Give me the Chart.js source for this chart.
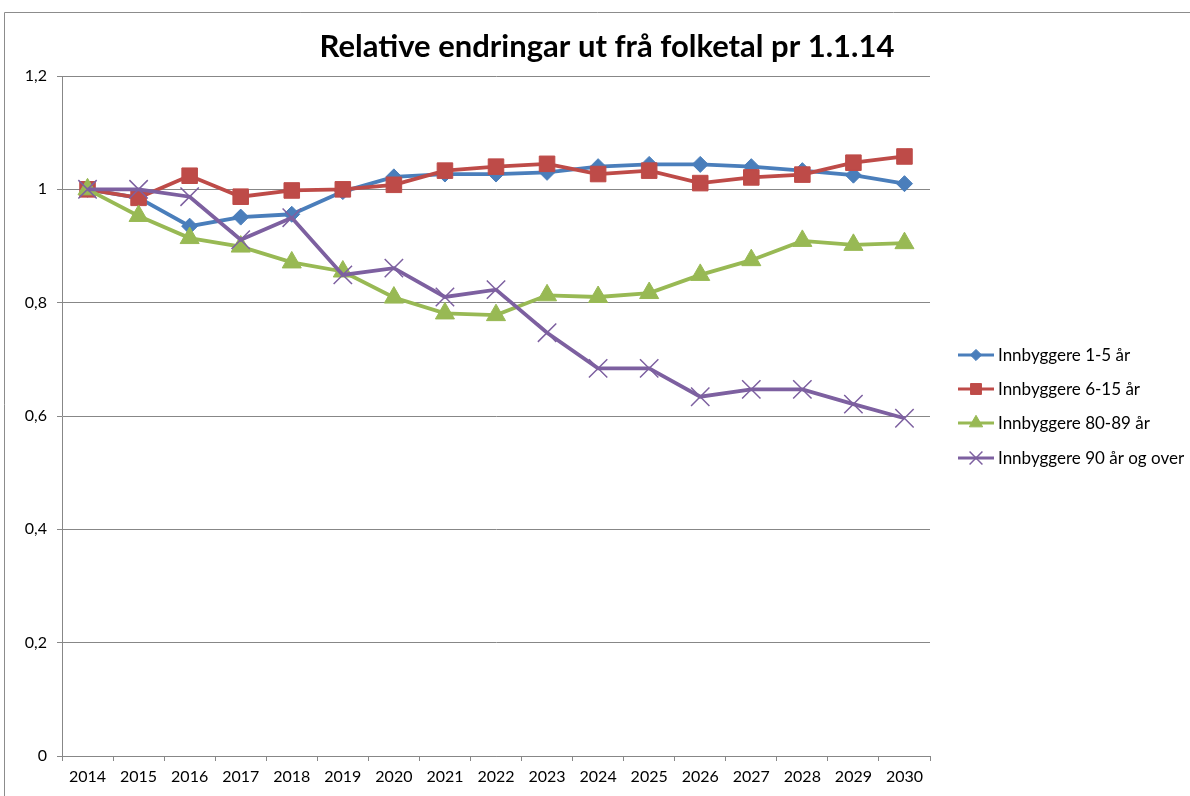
<!DOCTYPE html>
<html>
<head>
<meta charset="utf-8">
<script src="https://cdn.jsdelivr.net/npm/chart.js@4.4.1/dist/chart.umd.min.js"></script>
<style>
  html, body { margin: 0; padding: 0; background: #fff; }
  canvas { display: block; }
</style>
</head>
<body>
<canvas id="myChart" width="1190" height="796"></canvas>
<script>
//////////////////// Data ////////////////////
const years = ['2014', '2015', '2016', '2017', '2018', '2019', '2020', '2021', '2022',
               '2023', '2024', '2025', '2026', '2027', '2028', '2029', '2030'];

const age1to5   = [1.000, 0.985, 0.935, 0.951, 0.956, 0.996, 1.022, 1.027, 1.027,
                   1.030, 1.040, 1.044, 1.044, 1.040, 1.033, 1.025, 1.010];
const age6to15  = [1.000, 0.985, 1.024, 0.987, 0.998, 1.000, 1.008, 1.033, 1.040,
                   1.045, 1.027, 1.033, 1.011, 1.021, 1.026, 1.047, 1.058];
const age80to89 = [1.000, 0.953, 0.914, 0.899, 0.871, 0.855, 0.809, 0.781, 0.778,
                   0.813, 0.810, 0.817, 0.849, 0.875, 0.909, 0.902, 0.905];
const age90plus = [1.000, 1.000, 0.987, 0.911, 0.950, 0.849, 0.861, 0.810, 0.823,
                   0.747, 0.684, 0.684, 0.634, 0.647, 0.647, 0.621, 0.596];

const seriesNames = ['Innbyggere 1-5 år', 'Innbyggere 6-15 år', 'Innbyggere 80-89 år', 'Innbyggere 90 år og over'];
const yTicks = [0, 0.2, 0.4, 0.6, 0.8, 1, 1.2];
const chartTitle = 'Relative endringar ut frå folketal pr 1.1.14';
/////////////////////////////////////////////////////////////////////

const FONT = 'Lato, "Open Sans", sans-serif';
const GRID = '#878787';

const ctx1 = document.getElementById('myChart').getContext('2d');

// frame, title and legend are drawn by hand, Excel style
const excelLook = {
    id: 'excelLook',
    beforeDraw(chart) {
        const { ctx } = chart;
        ctx.save();
        ctx.fillStyle = '#fff';
        ctx.fillRect(0, 0, chart.width, chart.height);
        ctx.strokeStyle = '#8c8c8c';
        ctx.lineWidth = 1;
        ctx.beginPath();
        ctx.moveTo(4.5, chart.height);
        ctx.lineTo(4.5, 12.5);
        ctx.lineTo(chart.width, 12.5);
        ctx.stroke();
        ctx.restore();
    },
    afterDraw(chart) {
        const { ctx } = chart;
        ctx.save();
        // title
        ctx.fillStyle = '#000';
        ctx.font = 'bold 31px ' + FONT;
        ctx.textAlign = 'center';
        ctx.textBaseline = 'middle';
        ctx.fillText(chartTitle, 607, 47);

        // legend
        ctx.textAlign = 'left';
        ctx.font = '17px ' + FONT;
        const rows = [355, 389, 423, 458];
        chart.data.datasets.forEach((ds, i) => {
            const y = rows[i];
            ctx.strokeStyle = ds.borderColor;
            ctx.lineWidth = 3;
            ctx.beginPath();
            ctx.moveTo(958, y);
            ctx.lineTo(994, y);
            ctx.stroke();
            ctx.fillStyle = ds.pointBackgroundColor;
            ctx.strokeStyle = ds.pointBorderColor;
            ctx.lineWidth = ds.pointBorderWidth;
            Chart.helpers.drawPoint(ctx, {
                pointStyle: ds.pointStyle,
                radius: ds.pointRadius * 0.7,
                rotation: 0,
                borderWidth: ds.pointBorderWidth
            }, 976, y);
            ctx.fillStyle = '#000';
            ctx.fillText(ds.label, 998, y + 1);
        });
        ctx.restore();
    }
};

function makeSet(label, values, color, style, radius, order) {
    return {
        label: label,
        data: values,
        borderColor: color,
        backgroundColor: color,
        pointBackgroundColor: color,
        pointBorderColor: color,
        pointStyle: style,
        pointRadius: radius,
        pointHoverRadius: radius,
        pointBorderWidth: style === 'crossRot' ? 1.5 : 1,
        borderWidth: 3.8,
        tension: 0,
        fill: false,
        order: order
    };
}

const data = {
    labels: years,
    datasets: [
        makeSet(seriesNames[0], age1to5,   '#4A7EBB', 'rectRot',  8, 3),
        makeSet(seriesNames[1], age6to15,  '#BE4B48', 'rect',     11, 2),
        makeSet(seriesNames[2], age80to89, '#98B954', 'triangle', 11, 1),
        makeSet(seriesNames[3], age90plus, '#7D60A0', 'crossRot', 13, 0)
    ]
};

const config = {
    type: 'line',
    data: data,
    options: {
        responsive: false,
        animation: false,
        events: [],
        layout: {
            padding: { left: 0, top: 76, right: 260, bottom: 0 }
        },
        plugins: {
            legend: { display: false },
            title: { display: false },
            tooltip: { enabled: false }
        },
        scales: {
            x: {
                offset: true,
                grid: {
                    offset: true,
                    drawOnChartArea: false,
                    drawTicks: true,
                    tickLength: 5,
                    color: GRID
                },
                border: { color: GRID },
                ticks: {
                    color: '#000',
                    padding: 6,
                    maxRotation: 0,
                    autoSkip: false,
                    font: { family: FONT, size: 16 }
                },
                afterFit(scale) { scale.height = 40; }
            },
            y: {
                min: 0,
                max: 1.2,
                afterBuildTicks(scale) {
                    scale.ticks = yTicks.map(v => ({ value: v }));
                },
                grid: {
                    color: GRID,
                    tickLength: 5
                },
                border: { color: GRID },
                ticks: {
                    color: '#000',
                    padding: 10,
                    font: { family: FONT, size: 16 },
                    callback: (v) => String(Math.round(v * 10) / 10).replace('.', ',')
                },
                afterFit(scale) { scale.width = 62; }
            }
        }
    },
    plugins: [excelLook]
};

const myChart = new Chart(ctx1, config);
</script>
</body>
</html>
